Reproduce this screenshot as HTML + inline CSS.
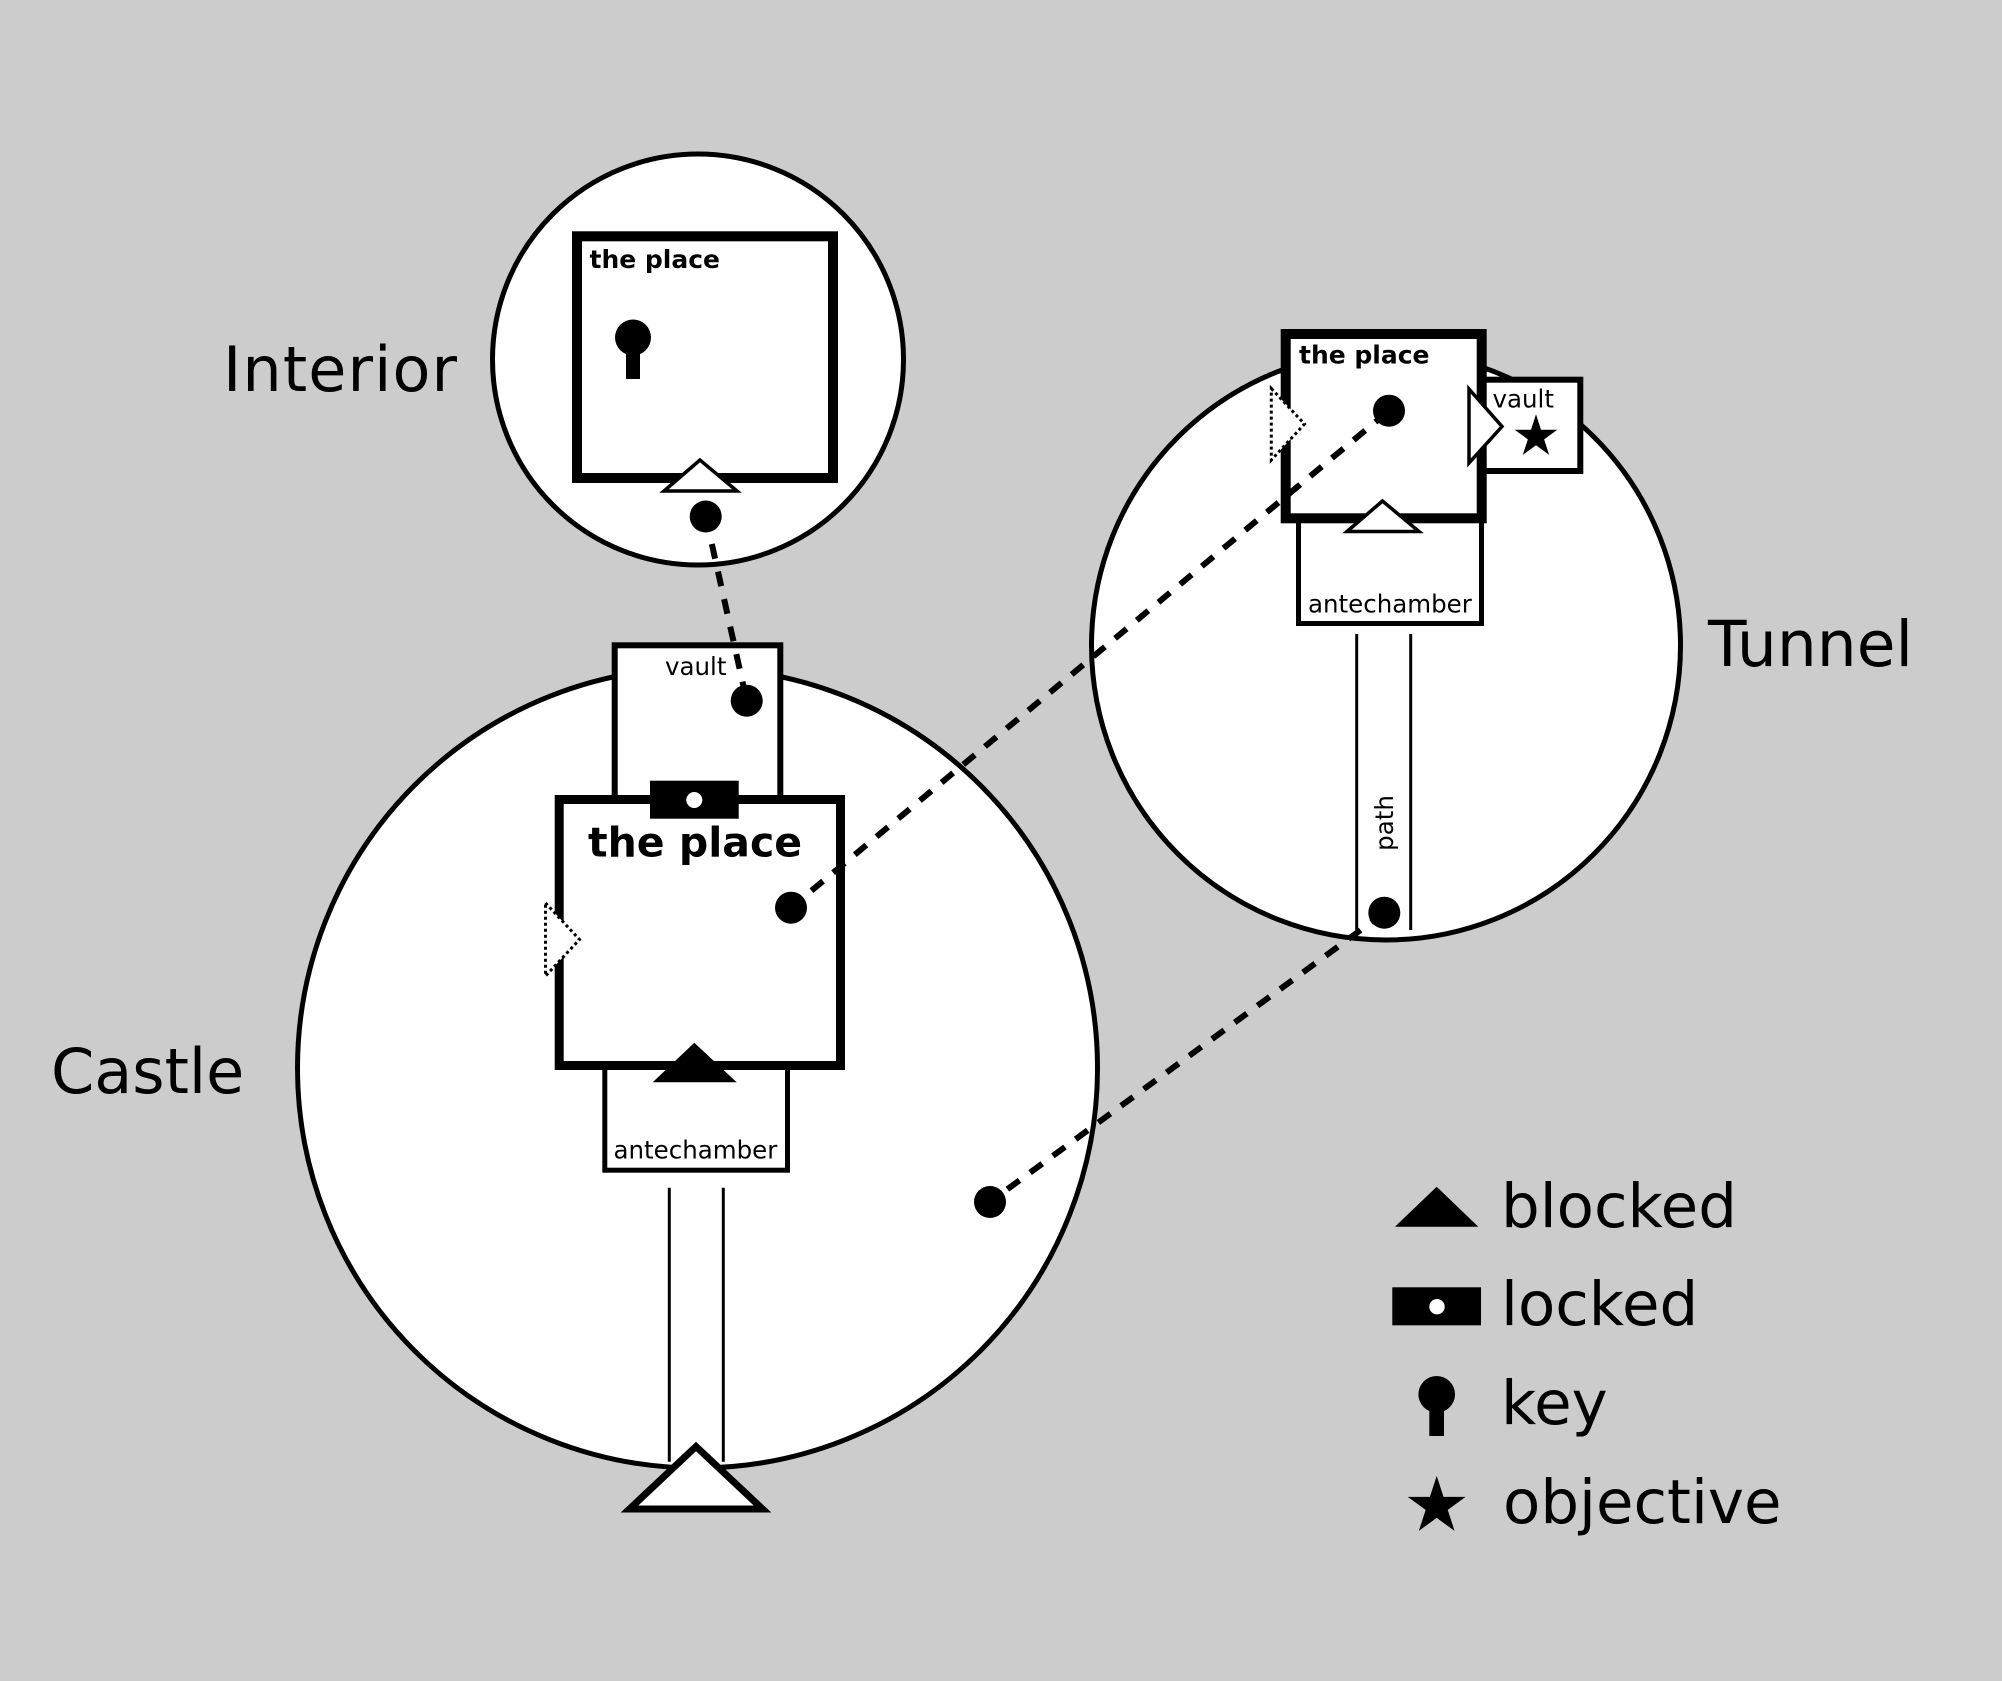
<!DOCTYPE html>
<html>
<head>
<meta charset="utf-8">
<style>
  html, body { margin: 0; padding: 0; background: #cccccc; }
  svg { display: block; }
  text { font-family: "DejaVu Sans", "Liberation Sans", sans-serif; fill: #000; }
</style>
</head>
<body>
<svg width="2002" height="1681" viewBox="0 0 2002 1681" xmlns="http://www.w3.org/2000/svg">
  <rect x="0" y="0" width="2002" height="1681" fill="#cccccc"/>

  <!-- Circles -->
  <circle cx="698" cy="359.5" r="205.5" fill="#fff" stroke="#000" stroke-width="5"/>
  <circle cx="697.5" cy="1068" r="400" fill="#fff" stroke="#000" stroke-width="5"/>
  <circle cx="1386" cy="645.5" r="294.5" fill="#fff" stroke="#000" stroke-width="5"/>

  <!-- Castle secondary rooms -->
  <rect x="614.7" y="645.3" width="165.6" height="200" fill="#fff" stroke="#000" stroke-width="6"/>
  <rect x="604.8" y="1000" width="182.7" height="170.2" fill="#fff" stroke="#000" stroke-width="5"/>
  <!-- Castle place -->
  <rect x="559.2" y="799.5" width="281.3" height="266" fill="#fff" stroke="#000" stroke-width="9"/>

  <!-- Interior place -->
  <rect x="577" y="236.3" width="256" height="241.7" fill="#fff" stroke="#000" stroke-width="10"/>

  <!-- Tunnel rooms -->
  <rect x="1460" y="379.7" width="120.3" height="91.3" fill="#fff" stroke="#000" stroke-width="6"/>
  <rect x="1298.5" y="450" width="183" height="173.5" fill="#fff" stroke="#000" stroke-width="5"/>
  <rect x="1285.7" y="334" width="196" height="184.3" fill="#fff" stroke="#000" stroke-width="10"/>

  <!-- Paths -->
  <line x1="669.3" y1="1187.7" x2="669.3" y2="1461.7" stroke="#000" stroke-width="3"/>
  <line x1="723.3" y1="1187.7" x2="723.3" y2="1461.7" stroke="#000" stroke-width="3"/>
  <line x1="1356.7" y1="634" x2="1356.7" y2="937" stroke="#000" stroke-width="3"/>
  <line x1="1410.7" y1="634" x2="1410.7" y2="930" stroke="#000" stroke-width="3"/>

  <!-- Doors / markers -->
  <polygon points="700,460 664,491 737,491" fill="#fff" stroke="#000" stroke-width="3.5"/>
  <polygon points="694.3,1042.7 652.7,1082.3 736.7,1082.3" fill="#000"/>
  <polygon points="696,1446.5 629.5,1509 762.5,1509" fill="#fff" stroke="#000" stroke-width="7"/>
  <polygon points="545.5,903 579.5,939.5 545.5,976" fill="#fff" stroke="#000" stroke-width="3" stroke-dasharray="3 3"/>
  <rect x="650" y="780.7" width="88.7" height="38" fill="#000"/>
  <circle cx="694.3" cy="800" r="8" fill="#fff"/>

  <polygon points="1271.3,388.5 1304.5,424 1271.3,460" fill="#fff" stroke="#000" stroke-width="3" stroke-dasharray="3 3"/>
  <polygon points="1469,389 1502,426.5 1469,463" fill="#fff" stroke="#000" stroke-width="3.5"/>
  <polygon points="1382.5,501 1347,531.5 1419,531.5" fill="#fff" stroke="#000" stroke-width="3.5"/>
  <polygon transform="translate(1536,436.7) scale(22.4)" points="0,-1 0.2245,-0.309 0.9511,-0.309 0.3633,0.118 0.5878,0.809 0,0.382 -0.5878,0.809 -0.3633,0.118 -0.9511,-0.309 -0.2245,-0.309" fill="#000"/>

  <!-- Interior key -->
  <circle cx="633" cy="337.5" r="18" fill="#000"/>
  <rect x="626" y="337" width="14" height="42" fill="#000"/>

  <!-- Dashed connectors -->
  <line x1="705.7" y1="516.5" x2="746.7" y2="700.7" stroke="#000" stroke-width="6" stroke-dasharray="15 13.2"/>
  <line x1="791" y1="907.7" x2="1389" y2="410.7" stroke="#000" stroke-width="6" stroke-dasharray="15 13.2" stroke-dashoffset="1.6"/>
  <line x1="990" y1="1202" x2="1384.3" y2="912.7" stroke="#000" stroke-width="6" stroke-dasharray="15 13.2" stroke-dashoffset="6.6"/>

  <!-- Dots -->
  <circle cx="705.7" cy="516.5" r="16" fill="#000"/>
  <circle cx="746.7" cy="700.7" r="16" fill="#000"/>
  <circle cx="791" cy="907.7" r="16" fill="#000"/>
  <circle cx="990" cy="1202" r="16" fill="#000"/>
  <circle cx="1389" cy="410.7" r="16" fill="#000"/>
  <circle cx="1384.3" cy="912.7" r="16" fill="#000"/>

  <!-- Room texts -->
  <text x="589.5" y="268" font-size="25" font-weight="bold">the place</text>
  <text x="588" y="856.7" font-size="41" font-weight="bold">the place</text>
  <text x="1299" y="363.3" font-size="25" font-weight="bold">the place</text>
  <text x="665" y="675" font-size="24.5">vault</text>
  <text x="1492.5" y="407.3" font-size="24.5">vault</text>
  <text x="613.5" y="1158.3" font-size="24.5">antechamber</text>
  <text x="1308" y="612.3" font-size="24.5">antechamber</text>
  <text transform="translate(1393,823) rotate(-90)" text-anchor="middle" font-size="24.5">path</text>

  <!-- Region labels -->
  <text x="223" y="391" font-size="62" textLength="234" lengthAdjust="spacing">Interior</text>
  <text x="51" y="1093" font-size="62">Castle</text>
  <text x="1708" y="666" font-size="63">Tunnel</text>

  <!-- Legend -->
  <polygon points="1436.7,1186.7 1395,1226.7 1478.3,1226.7" fill="#000"/>
  <rect x="1392.3" y="1287.3" width="88.7" height="38" fill="#000"/>
  <circle cx="1437" cy="1306.7" r="7.7" fill="#fff"/>
  <circle cx="1436.7" cy="1394.3" r="18.3" fill="#000"/>
  <rect x="1429.3" y="1394" width="14.7" height="42" fill="#000"/>
  <polygon transform="translate(1436.7,1506.3) scale(30.4)" points="0,-1 0.2245,-0.309 0.9511,-0.309 0.3633,0.118 0.5878,0.809 0,0.382 -0.5878,0.809 -0.3633,0.118 -0.9511,-0.309 -0.2245,-0.309" fill="#000"/>

  <text x="1501" y="1226.8" font-size="61">blocked</text>
  <text x="1501" y="1325" font-size="61">locked</text>
  <text x="1501" y="1424" font-size="61">key</text>
  <text x="1503" y="1523" font-size="61">objective</text>
</svg>
</body>
</html>
